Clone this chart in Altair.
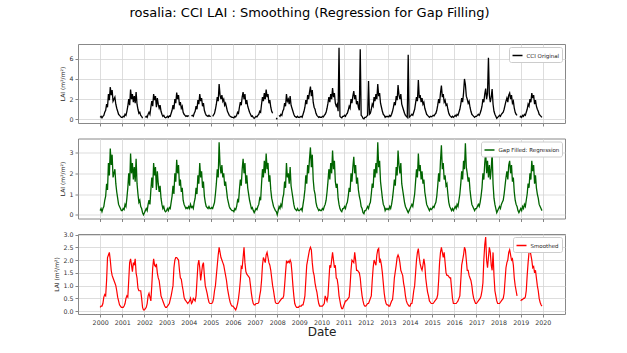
import altair as alt
import pandas as pd

# ---------------- data ----------------
years = list(range(2000, 2020))          # one row of 24 half-month values per year
steps_per_year = 24
year_ticks = [2000, 2001, 2002, 2003, 2004, 2005, 2006, 2007, 2008, 2009, 2010,
              2011, 2012, 2013, 2014, 2015, 2016, 2017, 2018, 2019, 2020]

# Gap filled (regression) LAI, 24 values per year
gap_filled = [
    0.2, 0.3, 0.15, 0.3, 0.4, 0.7, 0.9, 1.5, 1.2, 2.5, 1.9, 3.2, 2.4, 2.9, 1.8, 2.0, 2.2, 1.5, 1.1, 0.8, 0.5, 0.4, 0.3, 0.2,      # 2000
    0.2, 0.3, 0.25, 0.5, 0.4, 0.8, 1.3, 2.0, 1.4, 2.95, 2.0, 2.5, 1.7, 2.3, 1.6, 2.7, 1.5, 1.0, 0.6, 0.7, 0.4, 0.3, 0.1, 0.0,    # 2001
    0.1, 0.2, 0.3, 0.2, 0.5, 0.7, 0.5, 1.2, 1.8, 1.3, 2.5, 1.9, 2.3, 1.2, 2.1, 1.5, 1.1, 1.4, 0.8, 0.5, 0.3, 0.4, 0.2, 0.15,     # 2002
    0.2, 0.3, 0.2, 0.35, 0.3, 0.6, 0.9, 1.4, 1.0, 2.0, 1.6, 2.65, 2.0, 2.4, 1.4, 1.7, 1.1, 1.3, 0.7, 0.5, 0.4, 0.3, 0.35, 0.3,   # 2003
    0.4, 0.3, 0.5, 0.35, 0.4, 0.3, 0.6, 0.8, 1.3, 1.0, 1.9, 1.5, 2.5, 1.8, 2.1, 1.3, 1.6, 0.9, 0.6, 0.4, 0.35, 0.3, 0.4, 0.3,    # 2004
    0.3, 0.35, 0.3, 0.45, 0.6, 1.0, 1.5, 2.2, 1.8, 3.5, 2.4, 2.0, 2.4, 1.8, 2.0, 1.4, 1.6, 1.2, 0.8, 0.6, 0.4, 0.3, 0.25, 0.2,   # 2005
    0.2, 0.15, 0.3, 0.25, 0.4, 0.7, 0.6, 1.2, 1.7, 1.4, 2.2, 2.7, 2.0, 2.5, 1.5, 1.9, 1.3, 1.0, 0.7, 0.5, 0.3, 0.35, 0.2, 0.1,   # 2006
    0.2, 0.3, 0.25, 0.4, 0.5, 0.8, 0.7, 1.5, 2.2, 1.8, 2.6, 2.0, 2.95, 2.2, 2.5, 1.6, 1.9, 1.2, 0.8, 0.6, 0.4, 0.3, 0.2, 0.15,   # 2007
    0.0, 0.2, 0.4, 0.3, 0.5, 0.4, 0.8, 1.0, 1.6, 1.3, 2.5, 1.8, 2.0, 1.5, 2.3, 1.4, 1.1, 0.8, 0.5, 0.3, 0.25, 0.2, 0.3, 0.2,     # 2008
    0.2, 0.25, 0.3, 0.2, 0.5, 0.8, 1.2, 1.9, 1.5, 2.4, 2.0, 2.7, 3.25, 2.3, 2.9, 1.7, 1.2, 1.0, 0.6, 0.4, 0.3, 0.2, 0.25, 0.2,   # 2009
    0.2, 0.3, 0.25, 0.4, 0.5, 0.7, 1.1, 1.6, 2.2, 1.7, 2.5, 2.0, 3.1, 2.2, 2.6, 1.6, 1.3, 1.5, 0.8, 0.5, 0.3, 0.2, 0.15, 0.3,    # 2010
    0.3, 0.4, 0.3, 0.5, 0.6, 0.9, 1.3, 1.1, 2.0, 1.6, 2.3, 2.8, 2.0, 2.4, 1.5, 1.8, 1.2, 0.9, 0.7, 0.4, 0.3, 0.1, 0.05, 0.2,     # 2011
    0.2, 0.3, 0.4, 0.3, 0.5, 0.6, 1.0, 1.5, 1.3, 2.2, 1.8, 2.5, 2.0, 3.5, 2.3, 2.6, 1.6, 1.2, 0.8, 0.5, 0.4, 0.2, 0.3, 0.25,     # 2012
    0.3, 0.25, 0.4, 0.3, 0.5, 0.8, 1.2, 1.7, 1.4, 2.3, 1.9, 3.1, 2.4, 2.0, 2.5, 1.5, 1.2, 0.9, 0.6, 0.4, 0.3, 0.2, 0.1, 0.2,     # 2013
    0.3, 0.4, 0.5, 0.4, 0.7, 1.0, 1.6, 2.2, 1.8, 2.95, 2.1, 2.4, 1.7, 2.1, 1.5, 1.7, 1.1, 0.8, 0.5, 0.4, 0.3, 0.2, 0.3, 0.25,    # 2014
    0.3, 0.4, 0.35, 0.5, 0.6, 0.9, 1.4, 2.0, 1.6, 2.6, 3.35, 2.2, 2.5, 1.7, 1.9, 1.4, 1.5, 1.0, 0.6, 0.4, 0.3, 0.2, 0.3, 0.2,    # 2015
    0.3, 0.4, 0.3, 0.5, 0.4, 0.7, 1.0, 1.5, 2.1, 1.7, 2.6, 2.2, 3.45, 2.3, 2.0, 1.6, 1.8, 1.2, 0.8, 0.5, 0.4, 0.3, 0.2, 0.3,     # 2016
    0.3, 0.4, 0.5, 0.4, 0.6, 0.9, 1.3, 2.0, 1.7, 2.5, 3.05, 2.0, 2.6, 1.8, 2.4, 1.7, 2.2, 3.0, 1.5, 0.8, 0.5, 0.3, 0.1, 0.2,     # 2017
    0.3, 0.4, 0.3, 0.5, 0.6, 0.7, 1.0, 1.4, 1.8, 2.1, 1.7, 2.4, 2.6, 2.0, 2.4, 1.6, 1.8, 1.1, 0.7, 0.5, 0.4, 0.2, 0.1, 0.2,      # 2018
    0.3, 0.2, 0.4, 0.3, 0.5, 0.4, 0.7, 1.0, 1.5, 1.3, 2.0, 1.7, 2.6, 2.1, 2.4, 1.5, 1.9, 1.3, 1.0, 0.8, 0.5, 0.4, 0.3, 0.2,      # 2019
]

# Smoothed LAI, 24 values per year (None = gap)
smoothed = [
    0.15, 0.2, 0.2, 0.3, 0.55, 0.65, 0.6, 1.2, 2.1, 2.2, 2.3, 2.0, 1.6, 1.4, 1.3, 1.2, 1.1, 1.0, 0.8, 0.55, 0.4, 0.25, 0.2, 0.15,       # 2000
    0.15, 0.15, 0.2, 0.3, 0.5, 0.6, 0.55, 1.2, 1.9, 2.05, 1.8, 1.55, 1.9, 1.8, 2.05, 1.5, 1.3, 0.9, 0.8, 0.8, 0.8, 0.5, 0.15, 0.05,    # 2001
    0.05, 0.1, 0.15, 0.3, 0.6, 0.7, 0.55, 0.4, 1.0, 1.7, 2.05, 1.8, 1.75, 1.85, 1.5, 1.3, 1.2, 0.9, 0.6, 0.5, 0.4, 0.3, 0.2, 0.15,     # 2002
    0.15, 0.2, 0.25, 0.3, 0.45, 0.6, 0.8, 1.0, 1.7, 2.0, 2.1, 2.1, 2.05, 2.0, 1.6, 1.3, 1.25, 1.0, 0.8, 0.55, 0.45, 0.4, 0.35, 0.3,    # 2003
    0.35, 0.4, 0.5, 0.3, 0.35, 0.5, 0.45, 0.4, 0.6, 1.2, 1.8, 2.0, 1.7, 1.2, 1.5, 1.8, 1.9, 1.4, 1.0, 0.85, 0.7, 0.5, 0.35, 0.3,      # 2004
    0.3, 0.3, 0.35, 0.5, 0.8, 1.0, 1.4, 1.8, 2.2, 2.5, 2.3, 2.1, 2.0, 1.9, 1.8, 1.6, 1.4, 1.2, 0.9, 0.7, 0.5, 0.35, 0.25, 0.2,        # 2005
    0.2, 0.15, 0.1, 0.05, 0.15, 0.3, 0.5, 0.8, 1.2, 1.75, 1.7, 2.1, 2.5, 1.9, 1.55, 1.45, 1.4, 1.35, 1.3, 1.0, 0.7, 0.45, 0.3, 0.25,  # 2006
    0.25, 0.3, 0.3, 0.3, 0.35, 0.6, 0.8, 1.2, 1.8, 2.1, 2.0, 1.9, 2.2, 2.3, 2.1, 1.9, 1.8, 1.6, 1.3, 1.0, 0.8, 0.55, 0.35, 0.3,       # 2007
    0.3, 0.3, 0.35, 0.4, 0.45, 0.5, 0.5, 0.6, 1.0, 1.5, 1.95, 1.9, 1.95, 1.9, 2.0, 1.9, 1.5, 1.0, 0.6, 0.3, 0.2, 0.15, 0.15, 0.15,    # 2008
    0.2, 0.2, 0.2, 0.25, 0.25, 0.4, 0.6, 1.2, 1.8, 2.0, 2.2, 2.4, 2.5, 2.4, 1.9, 1.55, 1.4, 1.1, 0.9, 0.75, 0.5, 0.3, 0.2, 0.2,       # 2009
    0.2, 0.2, 0.25, 0.3, 0.6, 0.5, 0.4, 0.6, 1.2, 1.8, 1.7, 2.0, 2.3, 2.0, 1.7, 1.8, 1.3, 1.25, 1.0, 0.6, 0.4, 0.2, 0.1, 0.1,         # 2010
    0.2, 0.3, 0.4, 0.4, 0.45, 0.5, 0.55, 1.0, 1.6, 2.0, 1.95, 1.9, 2.3, 2.0, 1.6, 1.6, 1.55, 1.5, 1.3, 0.9, 0.6, 0.4, 0.25, 0.2,      # 2011
    0.2, 0.25, 0.3, 0.3, 0.4, 0.5, 0.6, 1.2, 1.7, 2.0, 1.9, 1.8, 2.2, 2.4, 2.45, 1.9, 2.0, 1.8, 1.5, 1.1, 0.7, 0.45, 0.3, 0.25,       # 2012
    0.25, 0.2, 0.2, 0.3, 0.4, 0.45, 0.8, 1.3, 1.55, 1.8, 2.1, 2.2, 2.1, 1.9, 1.6, 1.5, 1.4, 1.1, 0.9, 0.6, 0.4, 0.3, 0.25, 0.2,       # 2013
    0.2, 0.3, 0.3, 0.5, 0.8, 1.0, 1.5, 2.0, 2.3, 2.45, 2.1, 1.85, 1.7, 1.6, 1.8, 2.05, 1.8, 1.3, 1.0, 0.75, 0.6, 0.4, 0.35, 0.3,      # 2014
    0.3, 0.3, 0.35, 0.4, 0.45, 0.5, 0.65, 1.2, 1.9, 2.3, 2.5, 2.3, 2.1, 2.3, 1.9, 1.5, 1.4, 1.4, 1.35, 1.3, 1.3, 0.9, 0.5, 0.3,       # 2015
    0.3, 0.3, 0.3, 0.35, 0.4, 0.5, 0.6, 1.2, 1.8, 2.0, 2.2, 2.5, 2.4, 2.0, 1.6, 1.6, 1.4, 1.3, 1.2, 1.0, 0.7, 0.5, 0.4, 0.3,          # 2016
    0.3, 0.35, 0.4, 0.45, 0.5, 0.6, 0.8, 1.1, 2.0, 2.6, 2.9, 2.0, 1.7, 2.1, 2.5, 2.3, 1.8, 1.6, 2.3, 1.4, 0.8, 0.6, 0.4, 0.3,         # 2017
    0.3, 0.3, 0.35, 0.4, 0.45, 0.5, 0.7, 1.2, 1.7, 1.9, 2.0, 2.3, 2.4, 2.2, 2.0, 2.05, 1.8, 1.3, 1.0, 0.8, 0.6, None, None, None,     # 2018
    0.4, 0.45, 0.45, 0.5, 0.5, 0.55, 0.8, 1.4, 1.9, 2.3, 2.4, 2.2, 2.0, 1.7, 1.75, 1.5, 1.6, 1.3, 1.0, 0.8, 0.5, 0.35, 0.25, 0.2,     # 2019
]

# CCI original = the same observations, with missing dates and with outliers
original_gap_years = [2001, 2002, 2004, 2004, 2005, 2007, 2007, 2008, 2018, 2018]
original_gap_steps = [23, 0, 1, 2, 1, 20, 22, 1, 21, 22]
original_outlier_years = [2010, 2011, 2012, 2013, 2017, 2013, 2014, 2016]
original_outlier_steps = [19, 18, 3, 22, 13, 11, 9, 11]
original_outlier_values = [7.1, 6.95, 3.8, 6.4, 6.1, 3.4, 3.9, 4.0]

series_names = ["CCI Original", "Gap Filled: Regression", "Smoothed"]
series_colors = ["#000000", "#006400", "#ff0000"]

# ---------------- table ----------------
dates = [y + i / steps_per_year for y in years for i in range(steps_per_year)]
cci_original = list(gap_filled)
for y, s in zip(original_gap_years, original_gap_steps):
    cci_original[(y - years[0]) * steps_per_year + s] = None
for y, s, v in zip(original_outlier_years, original_outlier_steps, original_outlier_values):
    cci_original[(y - years[0]) * steps_per_year + s] = v


def frame(values, name):
    rows, seg = [], 0
    for t, v in zip(dates, values):
        if v is None:
            seg += 1
            continue
        rows.append({"t": t, "value": v, "series": name, "segment": seg})
    return pd.DataFrame(rows)


FONT = "DejaVu Sans"
W = 487


def panel(df, name, color, ydomain, yticks, yfmt, height, bottom, sw):
    x_axis = alt.Axis(values=year_ticks, format="d", labels=bottom,
                      title="Date" if bottom else None, grid=True)
    return alt.Chart(df).mark_line(strokeWidth=sw, clip=True).encode(
        x=alt.X("t:Q", scale=alt.Scale(domain=[1999, 2021], nice=False, zero=False), axis=x_axis),
        y=alt.Y("value:Q", scale=alt.Scale(domain=ydomain, nice=False, zero=False),
                axis=alt.Axis(values=yticks, format=yfmt, title="LAI (m²/m²)")),
        color=alt.Color("series:N", scale=alt.Scale(domain=[name], range=[color]),
                        legend=alt.Legend(title=None, orient="top-right")),
        detail="segment:N",
    ).properties(width=W, height=height)


p1 = panel(frame(cci_original, series_names[0]), series_names[0], series_colors[0],
           [-0.36, 7.46], [0, 2, 4, 6], "d", 79, False, 1.3)
p2 = panel(frame(gap_filled, series_names[1]), series_names[1], series_colors[1],
           [-0.18, 3.68], [0, 1, 2, 3], "d", 80, False, 1.3)
p3 = panel(frame(smoothed, series_names[2]), series_names[2], series_colors[2],
           [-0.11, 3.02], [0, 0.5, 1, 1.5, 2, 2.5, 3], ".1f", 80, True, 1.2)

chart = alt.vconcat(p1, p2, p3, spacing=15.5, bounds="flush").resolve_scale(
    y="independent", color="independent"
).resolve_legend(color="independent").properties(
    title=alt.TitleParams("rosalia: CCI LAI : Smoothing (Regression for Gap Filling)",
                          fontSize=13, font=FONT, fontWeight="normal", anchor="middle",
                          color="#000000", offset=24),
    padding={"left": 53, "top": 6, "right": 5, "bottom": 5},
    background="white",
).configure_view(
    stroke="#888888", strokeWidth=1
).configure_axis(
    labelFont=FONT, labelFontSize=6.3, labelColor="#333333", labelPadding=2,
    titleFont=FONT, titleFontSize=6, titleFontWeight="normal", titleColor="#222222", titlePadding=3,
    tickColor="#666666", tickSize=3, tickWidth=0.8, domain=False,
    gridColor="#d4d4d4", gridWidth=0.8,
).configure_axisX(
    titleFontSize=12, titlePadding=1,
).configure_legend(
    labelFont=FONT, labelFontSize=5.5, labelColor="#222222", labelOffset=3,
    symbolType="stroke", symbolSize=100, symbolStrokeWidth=1.5,
    padding=2.5, offset=3, strokeColor="#cccccc", fillColor="white", cornerRadius=2,
)

chart.save("out.html", embed_options={"renderer": "svg", "actions": False})
